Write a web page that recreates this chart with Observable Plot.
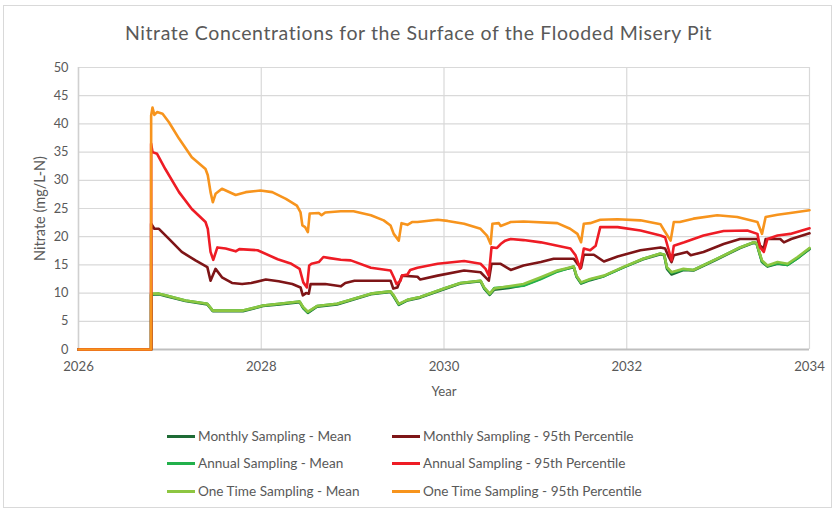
<!DOCTYPE html>
<html>
<head>
<meta charset="utf-8">
<script src="https://cdn.jsdelivr.net/npm/d3@7"></script>
<script src="https://cdn.jsdelivr.net/npm/@observablehq/plot@0.6"></script>
<style>
  html, body { margin: 0; padding: 0; background: #fff; }
  #wrap { position: relative; width: 837px; height: 511px; font-family: Lato, "Open Sans", sans-serif; color: #595959; overflow: hidden; }
  #frame { position: absolute; left: 3px; top: 5px; width: 829px; height: 503px; border: 1px solid #d9d9d9; box-sizing: border-box; }
  #title { position: absolute; left: 0; top: 20px; width: 837px; text-align: center; font-size: 19.5px; letter-spacing: 0.6px; line-height: 26px; color: #595959; }
  #chart { position: absolute; left: 0; top: 55px; }
  .leg { position: absolute; height: 20px; display: flex; align-items: center; font-size: 13.6px; color: #595959; white-space: nowrap; }
  .leg .sw { width: 28px; height: 3px; margin-right: 3px; }
</style>
</head>
<body>
<div id="wrap">
  <div id="frame"></div>
  <div id="title"></div>
  <div id="chart"></div>
  <div id="legend"></div>
</div>
<script>
const titleText = "Nitrate Concentrations for the Surface of the Flooded Misery Pit";
const xLabel = "Year";
const yLabel = "Nitrate (mg/L-N)";
const xTicks = [2026, 2028, 2030, 2032, 2034];
const yTicks = [0, 5, 10, 15, 20, 25, 30, 35, 40, 45, 50];

const seriesNames = [
  "Monthly Sampling - Mean",
  "Annual Sampling - Mean",
  "One Time Sampling - Mean",
  "Monthly Sampling - 95th Percentile",
  "Annual Sampling - 95th Percentile",
  "One Time Sampling - 95th Percentile"
];
const seriesColors = ["#1e6b35", "#22b04b", "#8dc641", "#7e1517", "#ee1c25", "#f7941d"];

// [year, nitrate]
const monthlyMean = [[2026,0],[2026.795,0],[2026.795,9.7],[2026.88,9.8],[2026.95,9.5],[2027.17,8.6],[2027.41,8.0],[2027.47,6.8],[2027.58,6.8],[2027.80,6.8],[2028.02,7.7],[2028.20,8.0],[2028.42,8.4],[2028.46,7.3],[2028.51,6.5],[2028.61,7.6],[2028.83,8.0],[2029.20,9.8],[2029.415,10.2],[2029.45,9.4],[2029.505,7.9],[2029.60,8.7],[2029.74,9.2],[2030.00,10.7],[2030.18,11.7],[2030.40,12.1],[2030.44,10.8],[2030.50,9.7],[2030.55,10.6],[2030.71,10.9],[2030.87,11.4],[2031.06,12.6],[2031.24,13.9],[2031.42,14.6],[2031.45,12.9],[2031.50,11.7],[2031.60,12.3],[2031.75,13.0],[2031.97,14.6],[2032.18,16.0],[2032.37,16.9],[2032.41,16.7],[2032.44,14.3],[2032.49,13.3],[2032.62,14.1],[2032.73,14.0],[2032.99,16.0],[2033.24,18.0],[2033.39,18.9],[2033.42,18.8],[2033.48,15.5],[2033.54,14.7],[2033.65,15.2],[2033.76,15.0],[2033.87,16.2],[2034,17.8]];
const annualMean = [[2026,0],[2026.795,0],[2026.795,9.8],[2026.88,9.9],[2026.95,9.6],[2027.17,8.7],[2027.41,8.1],[2027.47,6.9],[2027.58,6.9],[2027.80,6.9],[2028.02,7.8],[2028.20,8.1],[2028.42,8.5],[2028.46,7.4],[2028.51,6.6],[2028.61,7.7],[2028.83,8.1],[2029.20,9.9],[2029.415,10.3],[2029.45,9.5],[2029.505,8.0],[2029.60,8.8],[2029.74,9.3],[2030.00,10.8],[2030.18,11.8],[2030.40,12.2],[2030.44,10.9],[2030.50,9.8],[2030.55,10.9],[2030.71,11.1],[2030.87,11.3],[2031.06,12.5],[2031.24,13.8],[2031.42,14.7],[2031.45,13.0],[2031.50,11.8],[2031.60,12.4],[2031.75,13.0],[2031.97,14.6],[2032.18,16.1],[2032.37,17.0],[2032.41,16.8],[2032.44,14.5],[2032.49,13.6],[2032.62,14.2],[2032.73,14.1],[2032.99,16.1],[2033.24,18.1],[2033.39,19.0],[2033.42,18.9],[2033.48,15.6],[2033.54,14.8],[2033.65,15.3],[2033.76,15.0],[2033.87,16.2],[2034,17.9]];
const oneTimeMean = [[2026,0],[2026.795,0],[2026.795,9.9],[2026.88,9.9],[2026.95,9.6],[2027.17,8.7],[2027.41,8.1],[2027.47,6.9],[2027.58,6.9],[2027.80,6.9],[2028.02,7.8],[2028.20,8.1],[2028.42,8.5],[2028.46,7.5],[2028.51,6.7],[2028.61,7.7],[2028.83,8.1],[2029.20,9.9],[2029.415,10.3],[2029.45,9.6],[2029.505,8.1],[2029.60,8.8],[2029.74,9.3],[2030.00,10.8],[2030.18,11.8],[2030.40,12.2],[2030.44,11.0],[2030.50,9.9],[2030.55,10.8],[2030.71,11.2],[2030.87,11.6],[2031.06,12.8],[2031.24,14.0],[2031.42,14.7],[2031.45,13.1],[2031.50,11.9],[2031.60,12.5],[2031.75,13.1],[2031.97,14.7],[2032.18,16.1],[2032.37,17.0],[2032.41,16.8],[2032.44,14.6],[2032.49,13.7],[2032.62,14.3],[2032.73,14.1],[2032.99,16.1],[2033.24,18.1],[2033.39,19.0],[2033.42,18.9],[2033.48,15.8],[2033.54,14.9],[2033.65,15.5],[2033.76,15.2],[2033.87,16.4],[2034,18.0]];
const monthly95 = [[2026,0],[2026.795,0],[2026.795,22.3],[2026.83,21.4],[2026.88,21.4],[2026.99,19.6],[2027.13,17.3],[2027.28,15.8],[2027.41,14.6],[2027.445,12.2],[2027.50,14.3],[2027.57,12.8],[2027.68,11.8],[2027.79,11.6],[2027.89,11.8],[2028.05,12.4],[2028.19,12.1],[2028.34,11.6],[2028.43,11.0],[2028.455,9.6],[2028.49,10.0],[2028.52,9.9],[2028.54,11.6],[2028.70,11.6],[2028.87,11.2],[2028.92,11.8],[2029.02,12.2],[2029.415,12.2],[2029.445,10.8],[2029.49,11.0],[2029.54,13.1],[2029.71,12.9],[2029.74,12.4],[2029.93,13.1],[2030.22,14.0],[2030.40,13.7],[2030.455,12.8],[2030.49,12.2],[2030.52,15.2],[2030.62,15.2],[2030.73,14.1],[2030.87,14.9],[2031.06,15.5],[2031.20,16.1],[2031.42,16.1],[2031.46,15.2],[2031.50,14.5],[2031.53,16.8],[2031.64,16.8],[2031.75,15.6],[2031.90,16.5],[2032.15,17.6],[2032.37,18.1],[2032.42,17.9],[2032.46,16.4],[2032.49,15.5],[2032.515,16.7],[2032.66,17.3],[2032.70,16.7],[2032.84,17.3],[2033.06,18.7],[2033.24,19.6],[2033.43,19.6],[2033.46,18.4],[2033.50,17.9],[2033.52,19.6],[2033.68,19.6],[2033.72,19.0],[2033.80,19.6],[2034,20.6]];
const annual95 = [[2026,0],[2026.795,0],[2026.795,36.5],[2026.81,35.0],[2026.86,34.7],[2026.95,32.0],[2027.10,27.9],[2027.24,24.9],[2027.39,22.6],[2027.415,21.4],[2027.445,17.3],[2027.475,15.9],[2027.52,18.1],[2027.61,17.9],[2027.72,17.4],[2027.76,17.8],[2027.96,17.6],[2028.18,16.0],[2028.33,15.2],[2028.42,14.3],[2028.46,11.9],[2028.50,11.0],[2028.525,14.9],[2028.55,15.2],[2028.63,15.5],[2028.68,16.4],[2028.75,16.2],[2028.87,15.9],[2028.98,15.8],[2029.20,14.5],[2029.415,14.0],[2029.45,12.8],[2029.48,11.6],[2029.525,12.2],[2029.54,13.1],[2029.60,13.3],[2029.63,14.1],[2029.71,14.5],[2029.93,15.2],[2030.22,15.7],[2030.40,15.2],[2030.455,14.3],[2030.49,13.1],[2030.52,18.1],[2030.58,18.0],[2030.62,18.7],[2030.67,19.3],[2030.73,19.6],[2030.87,19.4],[2031.06,19.0],[2031.384,17.9],[2031.44,16.7],[2031.49,14.3],[2031.53,17.9],[2031.60,17.6],[2031.66,18.4],[2031.71,21.7],[2031.90,21.7],[2032.15,21.1],[2032.37,20.2],[2032.42,19.9],[2032.46,17.6],[2032.49,15.8],[2032.515,18.4],[2032.63,19.0],[2032.84,20.2],[2033.06,21.0],[2033.32,21.1],[2033.43,20.5],[2033.46,18.1],[2033.50,17.3],[2033.54,19.6],[2033.65,20.2],[2033.79,20.5],[2034,21.5]];
const oneTime95 = [[2026,0],[2026.795,0],[2026.795,41.5],[2026.81,42.9],[2026.83,41.6],[2026.86,42.1],[2026.92,41.8],[2026.99,40.3],[2027.10,37.4],[2027.24,34.1],[2027.39,32.0],[2027.415,30.9],[2027.445,27.9],[2027.47,26.1],[2027.50,27.6],[2027.57,28.5],[2027.72,27.4],[2027.83,27.9],[2027.99,28.2],[2028.12,27.9],[2028.27,26.7],[2028.39,25.5],[2028.43,24.3],[2028.45,22.0],[2028.48,21.7],[2028.51,20.8],[2028.53,24.1],[2028.63,24.2],[2028.66,23.8],[2028.70,24.3],[2028.87,24.5],[2029.01,24.5],[2029.20,23.8],[2029.34,22.9],[2029.415,22.0],[2029.45,20.5],[2029.505,19.3],[2029.535,22.4],[2029.60,22.1],[2029.65,22.6],[2029.71,22.6],[2029.93,23.0],[2030.04,22.8],[2030.22,22.3],[2030.40,21.4],[2030.47,20.2],[2030.51,18.7],[2030.53,22.3],[2030.60,22.4],[2030.62,21.9],[2030.73,22.6],[2030.87,22.7],[2031.24,22.4],[2031.38,21.4],[2031.46,20.5],[2031.50,19.0],[2031.53,22.3],[2031.60,22.4],[2031.71,23.0],[2031.90,23.1],[2032.15,22.9],[2032.37,22.2],[2032.41,21.1],[2032.48,19.3],[2032.515,22.6],[2032.58,22.6],[2032.73,23.2],[2032.99,23.8],[2033.21,23.5],[2033.43,22.6],[2033.48,20.5],[2033.52,23.5],[2033.65,23.9],[2033.79,24.2],[2034,24.7]];

const seriesData = [monthlyMean, annualMean, oneTimeMean, monthly95, annual95, oneTime95];

const rows = [];
seriesData.forEach((arr, i) => arr.forEach(([x, y]) => rows.push({series: seriesNames[i], x, y})));

document.getElementById("title").textContent = titleText;

const chart = Plot.plot({
  width: 837,
  height: 350,
  marginLeft: 78,
  marginRight: 28,
  marginTop: 12,
  marginBottom: 56,
  style: {fontFamily: "Lato, 'Open Sans', sans-serif", fontSize: "12.5px", color: "#595959", background: "transparent"},
  x: {domain: [2026, 2034]},
  y: {domain: [0, 50]},
  color: {domain: seriesNames, range: seriesColors},
  marks: [
    Plot.gridY(yTicks, {stroke: "#d9d9d9", strokeOpacity: 1, strokeWidth: 1.2}),
    Plot.gridX(xTicks, {stroke: "#d9d9d9", strokeOpacity: 1, strokeWidth: 1.2}),
    Plot.ruleX([2026], {stroke: "#d0d0d0", strokeWidth: 1.5}),
    Plot.ruleY([0], {stroke: "#bfbfbf", strokeWidth: 2.2}),
    Plot.axisY({ticks: yTicks, tickSize: 0, tickPadding: 10, tickFormat: d => String(d), label: null, fontSize: 12.8}),
    Plot.axisY({ticks: [], label: yLabel, labelAnchor: "center", labelArrow: "none", labelOffset: 44, fontSize: 14.5}),
    Plot.axisX({ticks: xTicks, tickSize: 0, tickPadding: 12, tickFormat: d => String(d), label: xLabel, labelAnchor: "center", labelArrow: "none", labelOffset: 46, fontSize: 13.2}),
    Plot.line(rows, {x: "x", y: "y", z: "series", stroke: "series", strokeWidth: 2.6, curve: "linear", strokeLinejoin: "round"})
  ]
});
document.getElementById("chart").appendChild(chart);

// legend
const legendPos = [
  [167, 426], [167, 453], [167, 481],
  [392, 426], [392, 453], [392, 481]
];
const legend = document.getElementById("legend");
seriesNames.forEach((name, i) => {
  const d = document.createElement("div");
  d.className = "leg";
  d.style.left = legendPos[i][0] + "px";
  d.style.top = legendPos[i][1] + "px";
  d.innerHTML = `<span class="sw" style="background:${seriesColors[i]}"></span><span>${name}</span>`;
  legend.appendChild(d);
});
</script>
</body>
</html>
